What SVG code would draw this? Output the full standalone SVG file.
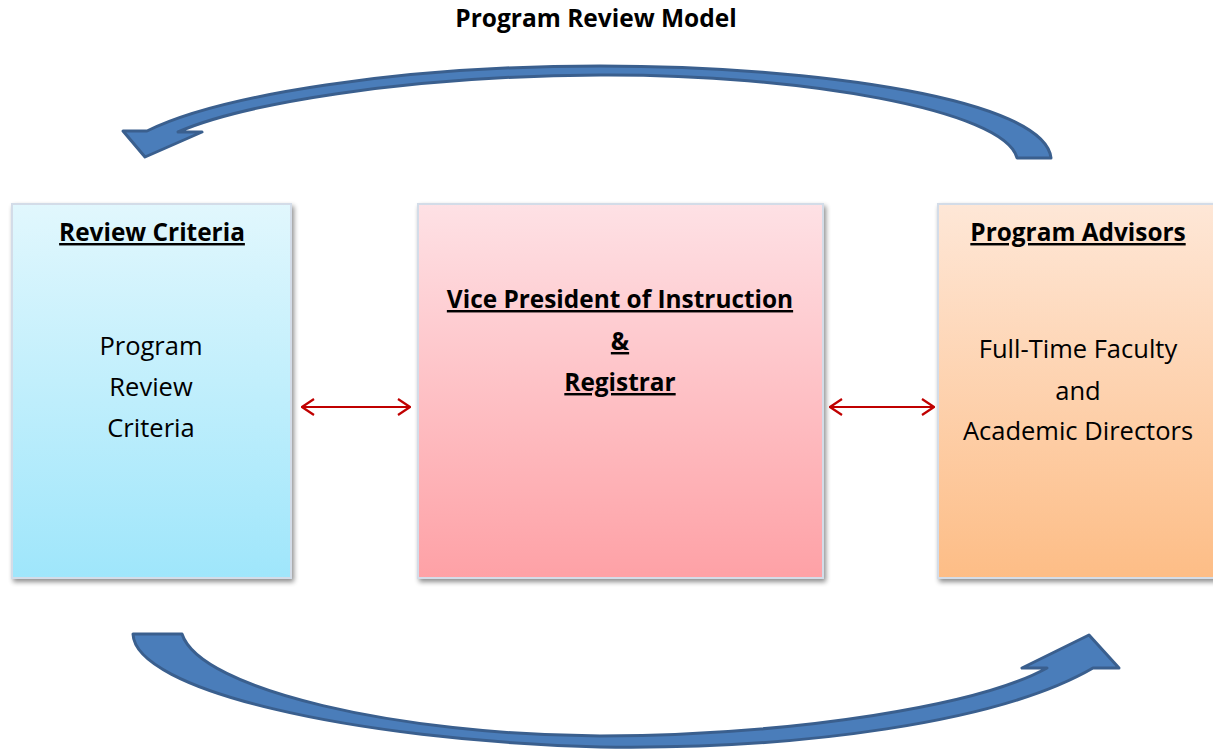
<svg xmlns="http://www.w3.org/2000/svg" width="1213" height="751" viewBox="0 0 1213 751">
  <defs>
    <linearGradient id="gBlue" x1="0" y1="0" x2="0" y2="1">
      <stop offset="0" stop-color="#e1f7fd"/>
      <stop offset="1" stop-color="#9fe6fb"/>
    </linearGradient>
    <linearGradient id="gPink" x1="0" y1="0" x2="0" y2="1">
      <stop offset="0" stop-color="#fee1e5"/>
      <stop offset="1" stop-color="#fea1a6"/>
    </linearGradient>
    <linearGradient id="gOrange" x1="0" y1="0" x2="0" y2="1">
      <stop offset="0" stop-color="#fee7d7"/>
      <stop offset="1" stop-color="#fdbd86"/>
    </linearGradient>
    <filter id="shadow" x="-10%" y="-10%" width="125%" height="125%">
      <feGaussianBlur in="SourceAlpha" stdDeviation="2.5"/>
      <feOffset dx="2" dy="3" result="b"/>
      <feComponentTransfer><feFuncA type="linear" slope="0.45"/></feComponentTransfer>
      <feMerge><feMergeNode/><feMergeNode in="SourceGraphic"/></feMerge>
    </filter>
    <marker id="chev" viewBox="0 0 14 18" refX="13" refY="9" markerWidth="14" markerHeight="18" markerUnits="userSpaceOnUse" orient="auto-start-reverse">
      <path d="M1,1 L13,9 L1,17" fill="none" stroke="#c00000" stroke-width="2.2"/>
    </marker>
  </defs>
  <style>
    .box { stroke: #d3dce8; stroke-width: 2; filter: url(#shadow); }
    .t { font-family: "Open Sans", "Liberation Sans", sans-serif; font-size: 25.5px; fill: #000; text-anchor: middle; }
    .h { font-size: 24.4px; font-weight: bold; text-decoration: underline; }
    .title { font-family: "Open Sans", "Liberation Sans", sans-serif; font-size: 24.5px; font-weight: bold; text-anchor: middle; }
    .curve { fill: #4a7dba; stroke: #3a5f8e; stroke-width: 3; stroke-linejoin: round; }
    .link { stroke: #c00000; stroke-width: 2.2; fill: none; }
  </style>

  <text class="title" x="596" y="27">Program Review Model</text>

  <!-- cycle arrows -->
  <g id="cycle">
    <path class="curve" d="M1051,158 C1045,100 820,66 600,66 C400,66 220,95 147,131 L123,131 L145,157 L202,132 L178,132 C240,105 400,76 600,75 C800,74 1005,110 1017,158 Z"/>
    <path class="curve" d="M133,634 C135,690 350,740 600,747 C800,750 1000,722 1093,668 L1119,668 L1089,635 L1022,668 L1047,668 C980,705 800,735 600,736 C400,735 200,690 182,634 Z"/>
  </g>

  <g id="review-criteria">
    <rect class="box" x="12" y="204" width="279" height="374" fill="url(#gBlue)"/>
    <text class="t h" x="152" y="241">Review Criteria</text>
    <text class="t" x="151" y="355">Program</text>
    <text class="t" x="151" y="396">Review</text>
    <text class="t" x="151" y="437">Criteria</text>
  </g>

  <g id="vp-registrar">
    <rect class="box" x="418" y="204" width="405" height="374" fill="url(#gPink)"/>
    <text class="t h" x="620" y="308">Vice President of Instruction</text>
    <text class="t h" x="620" y="350">&amp;</text>
    <text class="t h" x="620" y="391">Registrar</text>
  </g>

  <g id="program-advisors">
    <rect class="box" x="938" y="204" width="290" height="374" fill="url(#gOrange)"/>
    <text class="t h" x="1078" y="241">Program Advisors</text>
    <text class="t" x="1078" y="358">Full-Time Faculty</text>
    <text class="t" x="1078" y="400">and</text>
    <text class="t" x="1078" y="440">Academic Directors</text>
  </g>

  <g id="connectors">
    <line class="link" x1="302" y1="407" x2="410" y2="407" marker-start="url(#chev)" marker-end="url(#chev)"/>
    <line class="link" x1="830" y1="407" x2="934" y2="407" marker-start="url(#chev)" marker-end="url(#chev)"/>
  </g>
</svg>
